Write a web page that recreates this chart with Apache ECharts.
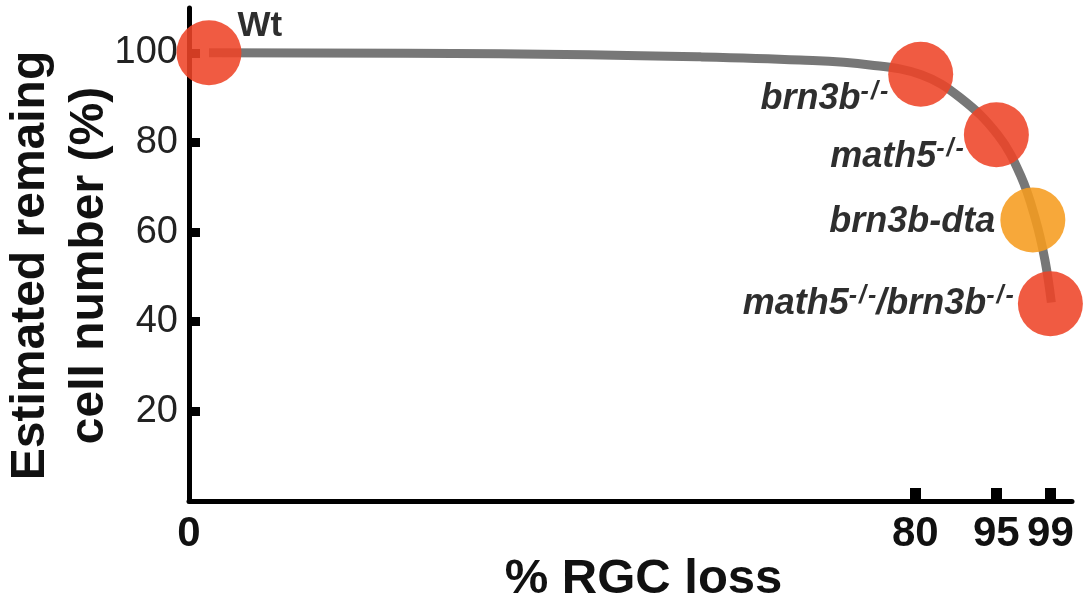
<!DOCTYPE html>
<html><head><meta charset="utf-8">
<script src="https://cdn.jsdelivr.net/npm/echarts@6/dist/echarts.min.js"></script>
<style>html,body{margin:0;padding:0;background:#fff}#c{width:1087px;height:603px}</style>
</head><body><div id="c"></div>
<script>
// ---- data ----
const genotypes = ['Wt', 'brn3b-/-', 'math5-/-', 'brn3b-dta', 'math5-/-/brn3b-/-'];
const rgcLoss = [2.2, 81, 95, 97.7, 99];
const remaining = [100, 95.2, 81.7, 62.7, 44];
const curveLoss = [2.2, 34.3, 56.3, 67.3, 75.0, 81.1, 88.3, 95.1, 96.8, 97.9, 98.6, 99.07];
const curveRemaining = [100, 99.8, 99.1, 98.4, 97.3, 95.1, 90.0, 81.7, 72.6, 62.8, 53.7, 44.3];
const xTickValues = [0, 80, 95, 99];
const yTickValues = [20, 40, 60, 80, 100];

// ---- non-uniform x scale (axis is stretched piecewise between ticks) ----
const xScaleSpots = [0, 80, 88.93, 94.88];
const xLossMax = 100.6;
function toSpot(v) {
  let i = 0;
  while (i < xTickValues.length - 2 && v > xTickValues[i + 1]) i++;
  const slope = (xScaleSpots[i + 1] - xScaleSpots[i]) / (xTickValues[i + 1] - xTickValues[i]);
  return xScaleSpots[i] + (v - xTickValues[i]) * slope;
}
function spotLabel(s) {
  for (let i = 0; i < xScaleSpots.length; i++) if (Math.abs(xScaleSpots[i] - s) < 1e-6) return String(xTickValues[i]);
  return '';
}

const pointColor = ['#EE4428', '#EE4428', '#EE4428', '#F69C1F', '#EE4428'];
const labelPlace = [
  {position: 'right', distance: -4, offset: [0, -26]},
  {position: 'left', distance: 0, offset: [0, 25]},
  {position: 'left', distance: 0, offset: [0, 22]},
  {position: 'left', distance: 5, offset: [0, 2]},
  {position: 'left', distance: 4, offset: [0, 0]}
];

const FONT = 'Liberation Sans, Arial, Helvetica, sans-serif';
function richLabel(p) {
  const base = p.dataIndex === 0 ? 'w' : 'm';
  return p.name.split(/(-\/-)/).filter(Boolean).map(t =>
    t === '-/-' ? t.split('').map(c => c === '/' ? '{sl|/}' : '{s|' + c + '}').join('') : '{' + base + '|' + t + '}'
  ).join('');
}
const supStyle = {fontFamily: FONT, fontSize: 25, fontWeight: 'bold', fontStyle: 'italic', color: '#111', lineHeight: 34, verticalAlign: 'top'};

const chart = echarts.init(document.getElementById('c'));
chart.setOption({
  animation: false,
  backgroundColor: '#fff',
  grid: {left: 189, right: 15, top: 8, bottom: 102, containLabel: false, outerBoundsMode: 'none'},
  xAxis: {
    type: 'value', min: 0, max: toSpot(xLossMax),
    name: '% RGC loss', nameLocation: 'middle', nameGap: 54, nameMoveOverlap: false,
    nameTextStyle: {fontFamily: FONT, fontSize: 49, fontWeight: 'bold', color: '#111', padding: [0, 0, 0, 26]},
    splitLine: {show: false},
    axisLine: {show: true, lineStyle: {color: '#000', width: 5}},
    axisTick: {show: true, inside: true, length: 13, customValues: xScaleSpots.slice(1), lineStyle: {color: '#000', width: 11}},
    axisLabel: {customValues: xScaleSpots, formatter: spotLabel, margin: 12,
      fontFamily: FONT, fontSize: 42, fontWeight: 'bold', color: '#111'}
  },
  yAxis: {
    type: 'value', min: 0, max: 110,
    name: 'Estimated remaing\ncell number (%)', nameLocation: 'middle', nameGap: 70, nameMoveOverlap: false,
    nameTextStyle: {fontFamily: FONT, fontSize: 48, fontWeight: 'bold', color: '#111', lineHeight: 59, padding: [0, 22, 0, 0]},
    splitLine: {show: false},
    axisLine: {show: true, lineStyle: {color: '#000', width: 5}},
    axisTick: {show: true, inside: true, length: 11, customValues: yTickValues, lineStyle: {color: '#000', width: 9}},
    axisLabel: {customValues: yTickValues, margin: 11, fontFamily: FONT, fontSize: 38, color: '#222'}
  },
  series: [
    {
      type: 'line', smooth: 0.4, symbol: 'none', clip: false, z: 2,
      lineStyle: {color: '#777', width: 9},
      data: curveLoss.map((v, i) => [toSpot(v), curveRemaining[i]])
    },
    {
      type: 'scatter', symbolSize: 65, clip: false, z: 3,
      data: genotypes.map((g, i) => ({
        name: g,
        value: [toSpot(rgcLoss[i]), remaining[i]],
        itemStyle: {color: pointColor[i], opacity: 0.88},
        label: Object.assign({show: true}, labelPlace[i])
      })),
      label: {
        show: true,
        formatter: richLabel,
        rich: {
          w: {fontFamily: FONT, fontSize: 35, fontWeight: 'bold', color: '#111'},
          m: {fontFamily: FONT, fontSize: 36, fontWeight: 'bold', fontStyle: 'italic', color: '#111', lineHeight: 40},
          s: supStyle,
          sl: Object.assign({}, supStyle, {padding: [0, 2, 0, 2]})
        }
      }
    }
  ]
});
</script>
</body></html>
